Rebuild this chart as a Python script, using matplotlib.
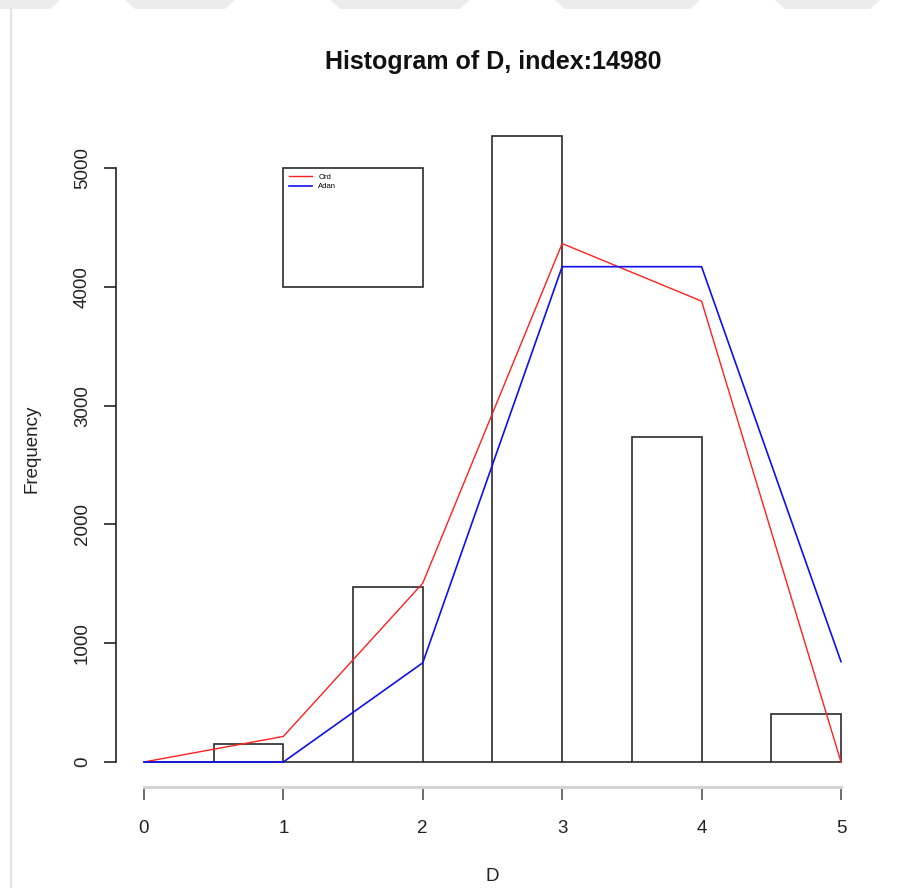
import matplotlib.pyplot as plt
from matplotlib.patches import Rectangle, Polygon
import numpy as np

plt.rcParams['font.family'] = ['Liberation Sans', 'DejaVu Sans']

# histogram of D: bins of width 0.5 from 0 to 5
bin_edges = [0.0, 0.5, 1.0, 1.5, 2.0, 2.5, 3.0, 3.5, 4.0, 4.5, 5.0]
counts = [0, 150, 0, 1470, 0, 5270, 0, 2740, 0, 405]

# fitted frequencies at integer D
d_points = [0, 1, 2, 3, 4, 5]
ord_freq = [0, 215, 1505, 4365, 3880, 0]
adan_freq = [0, 0, 835, 4170, 4170, 845]

y_ticks = [0, 1000, 2000, 3000, 4000, 5000]
x_ticks = [0, 1, 2, 3, 4, 5]

fig = plt.figure(figsize=(9.15, 8.88), dpi=100)

# light grey band with slanted gaps along the top edge, and a thin page border
for x0, x1 in [(-20, 60), (125, 235), (330, 470), (555, 700), (775, 880)]:
    fig.patches.append(Polygon([(x0 / 915, 1), (x1 / 915, 1),
                                ((x1 - 10) / 915, 1 - 9 / 888), ((x0 + 10) / 915, 1 - 9 / 888)],
                               closed=True, transform=fig.transFigure,
                               facecolor='#ececec', edgecolor='none'))
fig.add_artist(plt.Line2D([10.5 / 915, 10.5 / 915], [0, 1 - 9 / 888],
                          transform=fig.transFigure, color='#e4e4e4', lw=1.5))

ax = fig.add_axes([0.1268, 0.1137, 0.9496 - 0.1268, 0.875 - 0.1137])

widths = np.diff(bin_edges)
ax.bar(bin_edges[:-1], counts, width=widths, align='edge',
       facecolor='white', edgecolor='#2b2b2b', linewidth=1.2, zorder=2)

ax.plot(d_points, ord_freq, color='#ff2020', lw=1.0, label='Ord', zorder=3)
ax.plot(d_points, adan_freq, color='#1010ee', lw=1.2, label='Adan', zorder=3)

# legend box spanning D 1..2, frequency 4000..5000
ax.add_patch(Rectangle((1, 4000), 1, 1000, facecolor='none',
                       edgecolor='#2b2b2b', lw=1.2, zorder=4))
ax.legend(loc='upper left', bbox_to_anchor=(1.0, 5000), bbox_transform=ax.transData,
          frameon=False, fontsize=5.5, handlelength=3.0, handletextpad=0.9,
          labelspacing=0.3, borderaxespad=0.3)

ax.set_xlim(-0.2, 5.2)
ax.set_ylim(-0.04 * 5270, 1.04 * 5270)

for side in ['top', 'right']:
    ax.spines[side].set_visible(False)
ax.spines['left'].set_bounds(0, 5000)
ax.spines['left'].set_linewidth(1.2)
ax.spines['left'].set_color('#222222')
ax.spines['bottom'].set_bounds(0, 5)
ax.spines['bottom'].set_linewidth(2.2)
ax.spines['bottom'].set_color('#d4d4d4')

ax.set_xticks(x_ticks)
ax.set_yticks(y_ticks)
ax.set_yticklabels([str(v) for v in y_ticks], rotation=90, va='center')
ax.tick_params(axis='y', length=9, width=1.2, color='#222222', pad=9, labelsize=13.5,
               labelcolor='#222222')
ax.tick_params(axis='x', length=9, width=1.2, color='#555555', pad=15, labelsize=13.5,
               labelcolor='#222222')

ax.set_xlabel('D', fontsize=13.5, color='#222222', labelpad=22)
ax.set_ylabel('Frequency', fontsize=13.5, color='#222222', labelpad=24)

fig.text(0.5388, 1 - 62 / 888, 'Histogram of D, index:14980', ha='center', va='center',
         fontsize=18, fontweight='bold', color='#111111')

fig.savefig('out.png', dpi=100)
